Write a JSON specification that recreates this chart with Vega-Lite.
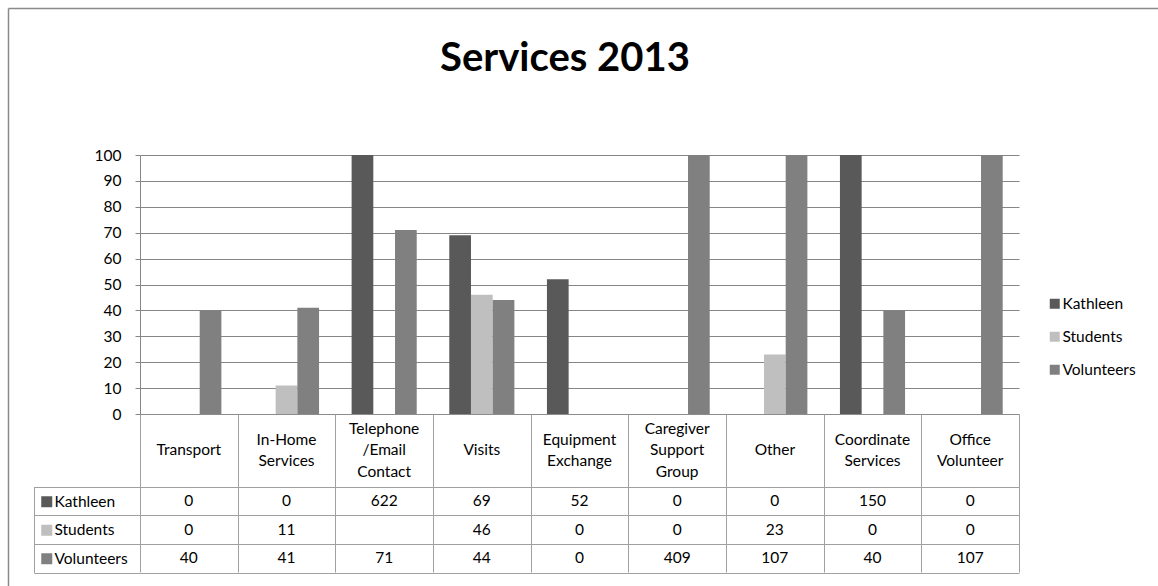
{
  "$schema": "https://vega.github.io/schema/vega-lite/v6.json",
  "width": 1150,
  "height": 578,
  "autosize": {"type": "none"},
  "padding": {"left": 8, "top": 8, "right": 0, "bottom": 0},
  "background": "white",
  "config": {"view": {"stroke": null}, "font": "Lato"},
  "title": {"text": "Services 2013", "font": "Lato", "fontSize": 40, "fontWeight": "bold", "color": "#000000", "anchor": "middle", "dx": -18, "offset": -103, "baseline": "alphabetic"},
  "data": {"values": [
    {"Category": "Transport", "Series": "Kathleen", "Value": 0},
    {"Category": "Transport", "Series": "Students", "Value": 0},
    {"Category": "Transport", "Series": "Volunteers", "Value": 40},
    {"Category": "In-Home Services", "Series": "Kathleen", "Value": 0},
    {"Category": "In-Home Services", "Series": "Students", "Value": 11},
    {"Category": "In-Home Services", "Series": "Volunteers", "Value": 41},
    {"Category": "Telephone /Email Contact", "Series": "Kathleen", "Value": 622},
    {"Category": "Telephone /Email Contact", "Series": "Students", "Value": null},
    {"Category": "Telephone /Email Contact", "Series": "Volunteers", "Value": 71},
    {"Category": "Visits", "Series": "Kathleen", "Value": 69},
    {"Category": "Visits", "Series": "Students", "Value": 46},
    {"Category": "Visits", "Series": "Volunteers", "Value": 44},
    {"Category": "Equipment Exchange", "Series": "Kathleen", "Value": 52},
    {"Category": "Equipment Exchange", "Series": "Students", "Value": 0},
    {"Category": "Equipment Exchange", "Series": "Volunteers", "Value": 0},
    {"Category": "Caregiver Support Group", "Series": "Kathleen", "Value": 0},
    {"Category": "Caregiver Support Group", "Series": "Students", "Value": 0},
    {"Category": "Caregiver Support Group", "Series": "Volunteers", "Value": 409},
    {"Category": "Other", "Series": "Kathleen", "Value": 0},
    {"Category": "Other", "Series": "Students", "Value": 23},
    {"Category": "Other", "Series": "Volunteers", "Value": 107},
    {"Category": "Coordinate Services", "Series": "Kathleen", "Value": 150},
    {"Category": "Coordinate Services", "Series": "Students", "Value": 0},
    {"Category": "Coordinate Services", "Series": "Volunteers", "Value": 40},
    {"Category": "Office Volunteer", "Series": "Kathleen", "Value": 0},
    {"Category": "Office Volunteer", "Series": "Students", "Value": 0},
    {"Category": "Office Volunteer", "Series": "Volunteers", "Value": 107}
  ]},
  "layer": [
    {
      "mark": {"type": "bar"},
      "encoding": {
        "x": {"field": "Category", "type": "nominal", "sort": null,
          "scale": {"domain": ["Transport","In-Home Services","Telephone /Email Contact","Visits","Equipment Exchange","Caregiver Support Group","Other","Coordinate Services","Office Volunteer"], "range": [132, 1011], "paddingInner": 0, "paddingOuter": 0},
          "axis": {"orient": "bottom", "offset": -172, "title": null, "domain": true, "domainColor": "#8c8c8c", "ticks": false, "tickSize": 0, "grid": false,
            "labelExpr": "split(datum.label, ' ')",
            "labelBaseline": {"condition": [{"test": "length(split(datum.label, ' ')) == 1", "value": "line-top"}, {"test": "length(split(datum.label, ' ')) == 3", "value": "line-bottom"}], "value": "middle"},
            "labelAngle": 0, "labelPadding": 25, "labelLineHeight": 21.5,
            "labelFont": "Lato", "labelFontSize": 15.5, "labelColor": "#000000", "labelLimit": 0, "labelOverlap": false, "labelFlush": false}},
        "xOffset": {"field": "Series", "type": "nominal", "scale": {"domain": ["Kathleen","Students","Volunteers"], "paddingInner": 0, "paddingOuter": 0.75}},
        "y": {"field": "Value", "type": "quantitative",
          "scale": {"domain": [0, 100], "range": [406, 147], "clamp": true, "nice": false, "zero": true},
          "axis": {"orient": "left", "offset": -132, "title": null, "values": [0,10,20,30,40,50,60,70,80,90,100],
            "grid": true, "gridColor": "#868686", "gridWidth": 1, "domain": true, "domainColor": "#868686", "ticks": true, "tickColor": "#868686", "tickSize": 5,
            "labelPadding": 14, "labelFont": "Lato", "labelFontSize": 15.5, "labelColor": "#000000"}},
        "color": {"field": "Series", "type": "nominal",
          "scale": {"domain": ["Kathleen","Students","Volunteers"], "range": ["#595959", "#bfbfbf", "#808080"]},
          "legend": {"orient": "none", "legendX": 1039, "legendY": 288, "title": null, "symbolType": "square", "symbolSize": 100, "symbolStrokeWidth": 0,
            "labelFont": "Lato", "labelFontSize": 15.5, "labelColor": "#000000", "labelOffset": 0, "rowPadding": 16, "padding": 0}}
      }
    },
    {
      "transform": [{"filter": "isValid(datum.Value)"}],
      "mark": {"type": "text", "font": "Lato", "fontSize": 15.5, "color": "#000000", "align": "center", "baseline": "middle"},
      "encoding": {
        "x": {"field": "Category", "type": "nominal", "sort": null,
          "scale": {"domain": ["Transport","In-Home Services","Telephone /Email Contact","Visits","Equipment Exchange","Caregiver Support Group","Other","Coordinate Services","Office Volunteer"], "range": [132, 1011], "paddingInner": 0, "paddingOuter": 0},
          "axis": {"orient": "bottom", "offset": -172, "title": null, "domain": false, "labels": false, "grid": false, "ticks": true, "tickBand": "extent", "tickSize": 158, "tickColor": "#a0a0a0", "tickWidth": 1}},
        "y": {"field": "Series", "type": "nominal",
          "scale": {"domain": ["Kathleen","Students","Volunteers"], "range": [478.5, 564.5], "paddingInner": 0, "paddingOuter": 0},
          "axis": {"orient": "left", "offset": -26, "title": null, "labels": false, "domain": true, "domainColor": "#a0a0a0",
            "ticks": true, "tickBand": "extent", "tickSize": -106, "tickColor": "#a0a0a0", "grid": true, "gridColor": "#a0a0a0"}},
        "text": {"field": "Value", "type": "quantitative"}
      }
    },
    {
      "mark": {"type": "point", "filled": true, "shape": "square", "opacity": 0},
      "encoding": {
        "x": {"field": "Value", "type": "quantitative",
          "axis": {"orient": "top", "title": null, "labels": false, "ticks": false, "grid": false, "domain": true, "domainColor": "#8a8a8a", "domainWidth": 1.5}},
        "y": {"field": "Value", "type": "quantitative",
          "axis": {"orient": "left", "title": null, "labels": false, "ticks": false, "grid": false, "domain": true, "domainColor": "#8a8a8a", "domainWidth": 1.5}},
        "color": {"field": "Series", "type": "nominal",
          "scale": {"domain": ["Kathleen","Students","Volunteers"], "range": ["#595959", "#bfbfbf", "#808080"]},
          "legend": {"orient": "none", "legendX": 31, "legendY": 486, "title": null, "symbolType": "square", "symbolSize": 121, "symbolOpacity": 1, "symbolStrokeWidth": 0,
            "labelFont": "Lato", "labelFontSize": 15.5, "labelColor": "#000000", "labelOffset": 0, "rowPadding": 11.5, "padding": 0}}
      }
    }
  ],
  "resolve": {"scale": {"x": "independent", "y": "independent", "color": "independent", "xOffset": "independent"}}
}
